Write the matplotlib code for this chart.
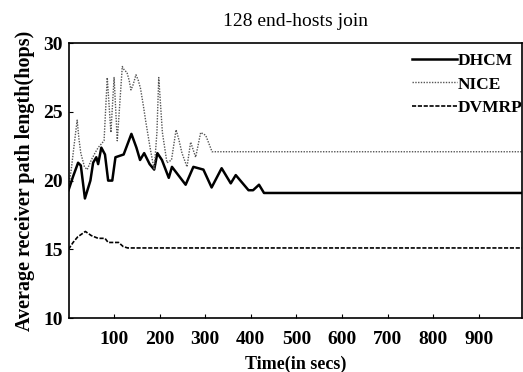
import matplotlib
matplotlib.use("Agg")
import matplotlib.pyplot as plt

plt.rcParams['font.family'] = ['Liberation Serif', 'DejaVu Serif']

# DHCM (solid)
dhcm_t = [0, 10, 21, 27, 36, 48, 54, 61, 65, 72, 80, 87, 96, 103, 112, 121, 138, 149, 157, 166,
          178, 188, 195, 205, 220, 227, 257, 274, 296, 314, 336, 356, 367, 395, 405, 418, 429, 995]
dhcm_v = [19.3, 20.3, 21.3, 21.1, 18.7, 20.0, 21.3, 21.7, 21.2, 22.4, 21.9, 20.0, 20.0, 21.7, 21.8,
          21.9, 23.4, 22.4, 21.5, 22.0, 21.2, 20.8, 22.0, 21.5, 20.2, 21.0, 19.7, 21.0, 20.8, 19.5,
          20.9, 19.8, 20.4, 19.3, 19.3, 19.7, 19.1, 19.1]

# NICE (dotted)
nice_t = [0, 6, 12, 19, 23, 27, 35, 41, 50, 58, 65, 78, 85, 93, 100, 107, 118, 123, 128, 133, 137,
          142, 148, 153, 158, 164, 170, 180, 188, 194, 198, 202, 206, 216, 226, 236, 242, 249, 260,
          268, 279, 290, 301, 315, 995]
nice_v = [19.5, 20.8, 22.5, 24.4, 23.0, 22.0, 21.0, 20.8, 21.5, 22.0, 22.4, 22.9, 27.5, 23.5, 27.5,
          22.9, 28.3, 28.0, 27.9, 27.3, 26.6, 27.0, 27.7, 27.3, 26.7, 25.5, 24.2, 22.2, 20.8, 23.5,
          27.5, 25.5, 23.5, 21.3, 21.5, 23.7, 23.0, 22.0, 21.0, 22.8, 21.7, 23.5, 23.3, 22.1, 22.1]

# DVMRP (dashed)
dvmrp_t = [0, 10, 20, 37, 50, 65, 80, 87, 110, 120, 130, 995]
dvmrp_v = [15.0, 15.5, 15.9, 16.3, 16.0, 15.8, 15.8, 15.5, 15.5, 15.2, 15.1, 15.1]

x_ticks = [100, 200, 300, 400, 500, 600, 700, 800, 900]
y_ticks = [10, 15, 20, 25, 30]

fig = plt.figure(figsize=(5.23, 3.72), dpi=100)
ax = fig.add_axes([0.131, 0.145, 0.867, 0.739])

ax.plot(dhcm_t, dhcm_v, color="black", linewidth=1.8, linestyle="-", label="DHCM")
ax.plot(nice_t, nice_v, color="#555555", linewidth=1.0, linestyle=(0, (1, 1)), label="NICE")
ax.plot(dvmrp_t, dvmrp_v, color="black", linewidth=1.2, linestyle=(0, (2.5, 1)), label="DVMRP")

ax.set_xlim(0, 995)
ax.set_ylim(10, 30)
ax.set_xticks(x_ticks)
ax.set_yticks(y_ticks)
ax.tick_params(direction="in", length=3, labelsize=14)
ax.tick_params(axis="x", pad=9)
ax.tick_params(axis="y", pad=4)
for lab in ax.get_xticklabels() + ax.get_yticklabels():
    lab.set_fontweight("bold")

ax.set_xlabel("Time(in secs)", fontsize=13, fontweight="bold", labelpad=6)
ax.set_ylabel("Average receiver path length(hops)", fontsize=14.5, fontweight="bold", labelpad=6)
ax.set_title("128 end-hosts join", fontsize=14, pad=12)

for s in ax.spines.values():
    s.set_linewidth(1.2)

leg = ax.legend(loc="upper right", bbox_to_anchor=(1.035, 1.02), frameon=False,
                handlelength=2.6, handletextpad=0.0, labelspacing=0.4,
                prop={"size": 12.5, "weight": "bold"})

fig.savefig("out.png", dpi=100)
